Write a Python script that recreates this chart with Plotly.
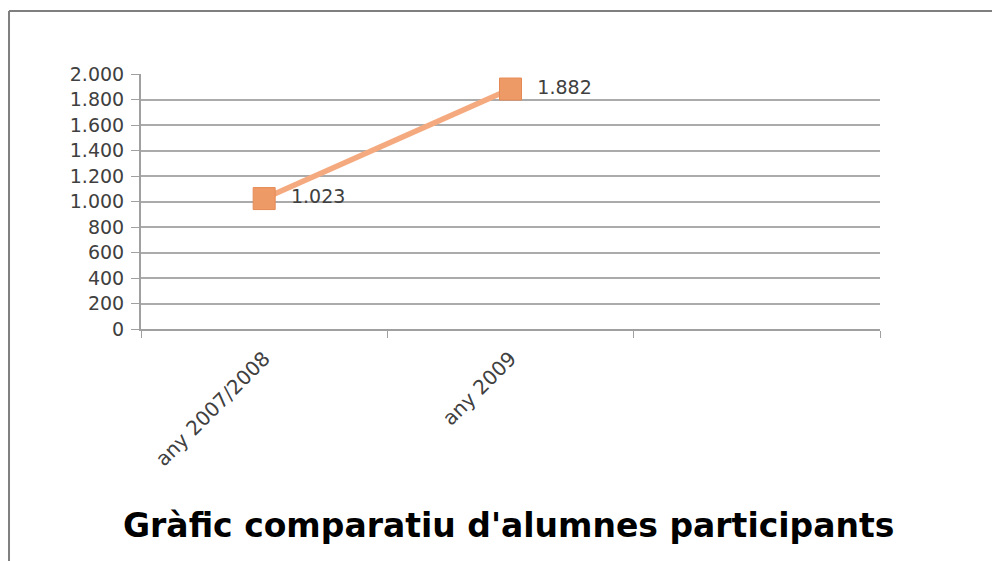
import plotly.graph_objects as go

categories = ["any 2007/2008", "any 2009", " "]
alumnes = [1023, 1882, None]
y_ticks = [0, 200, 400, 600, 800, 1000, 1200, 1400, 1600, 1800, 2000]
title_text = "Gràfic comparatiu d'alumnes participants"

labels = [("  " + "{:,}".format(v).replace(",", ".") if v is not None else "") for v in alumnes]

FONT = "DejaVu Sans"
TXT = "#404040"

fig = go.Figure()
fig.add_trace(go.Scatter(
    x=categories, y=alumnes, mode="lines+markers+text",
    line=dict(color="#F4AA7E", width=5.5),
    marker=dict(symbol="square", size=22, color="#EE9A66",
                line=dict(color="#E58A55", width=1)),
    text=labels, textposition="middle right",
    textfont=dict(family=FONT, size=19, color=TXT),
    cliponaxis=False, showlegend=False,
))

# page body has an 8px margin, so the figure is drawn 8px smaller/offset
fig.update_layout(
    width=992, height=553,
    margin=dict(l=133, r=120, t=66, b=232),
    paper_bgcolor="white", plot_bgcolor="white",
    separators=",.",
    font=dict(family=FONT, size=19, color=TXT),
    xaxis=dict(
        type="category", categoryarray=categories, categoryorder="array",
        range=[-0.5, 2.5], tickson="boundaries",
        ticks="outside", ticklen=7, tickcolor="#A0A0A0", tickwidth=1,
        showline=True, linecolor="#A0A0A0", linewidth=2,
        showgrid=False, tickangle=-45,
        tickfont=dict(family=FONT, size=20, color=TXT),
        ticklabelstandoff=8,
        fixedrange=True,
    ),
    yaxis=dict(
        range=[0, 2000], tickvals=y_ticks, tickformat=",",
        ticks="outside", ticklen=8, tickcolor="#A0A0A0", tickwidth=1,
        showline=True, linecolor="#A0A0A0", linewidth=2,
        showgrid=True, gridcolor="#ABABAB", gridwidth=1.5,
        zeroline=False,
        tickfont=dict(family=FONT, size=19, color=TXT),
        ticklabelstandoff=3,
    ),
    annotations=[dict(
        text="<b>" + title_text + "</b>", xref="paper", yref="paper",
        x=0.497, y=-0.77, xanchor="center", yanchor="middle", showarrow=False,
        font=dict(family=FONT, size=33, color="#000000"),
    )],
    shapes=[
        dict(type="line", xref="paper", yref="paper",
             x0=-0.1786, x1=1.3, y0=1.247, y1=1.247,
             line=dict(color="#7F7F7F", width=2)),
        dict(type="line", xref="paper", yref="paper",
             x0=-0.1786, x1=-0.1786, y0=1.247, y1=-0.95,
             line=dict(color="#7F7F7F", width=2)),
    ],
)

fig.write_html("out.html")
